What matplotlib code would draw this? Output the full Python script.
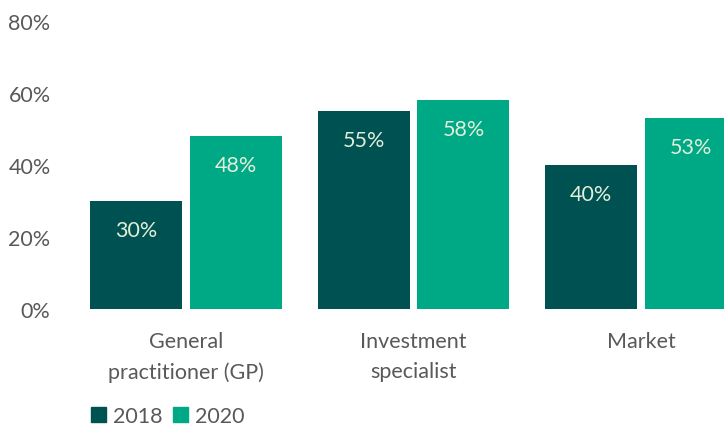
import matplotlib
matplotlib.use("Agg")
import matplotlib.pyplot as plt
from matplotlib.patches import Patch
import numpy as np

plt.rcParams['font.family'] = ['Lato', 'DejaVu Sans']

categories = ["General\npractitioner (GP)", "Investment\nspecialist", "Market"]
years = ["2018", "2020"]
values_2018 = [30, 55, 40]
values_2020 = [48, 58, 53]
yticks = [0, 20, 40, 60, 80]

DARK = "#005151"
GREEN = "#00a985"
LABEL_IN = "#e2eed8"
GREY = "#595959"
FS = 15.5

fig = plt.figure(figsize=(7.24, 4.27), dpi=100)
ax = fig.add_axes([70 / 724, 117 / 427, 654 / 724, 288 / 427])

x = np.arange(len(categories))
w = 0.404
off = 0.2195

b1 = ax.bar(x - off, values_2018, w, color=DARK)
b2 = ax.bar(x + off, values_2020, w, color=GREEN)

for bars, vals in ((b1, values_2018), (b2, values_2020)):
    for rect, v in zip(bars, vals):
        ax.annotate(f"{v}%", (rect.get_x() + rect.get_width() / 2, v),
                    xytext=(0, -21), textcoords="offset points",
                    ha="center", va="center", color=LABEL_IN, fontsize=FS)

ax.set_xlim(-0.51, 2.365)
ax.set_ylim(0, 80)
ax.set_yticks(yticks)
ax.set_yticklabels([f"{t}%" for t in yticks])
ax.set_xticks(x)
ax.set_xticklabels(categories, linespacing=1.6)
ax.tick_params(axis="y", length=0, pad=14, labelsize=FS, labelcolor=GREY)
ax.tick_params(axis="x", length=0, pad=16, labelsize=FS, labelcolor=GREY)
for s in ax.spines.values():
    s.set_visible(False)

handles = [Patch(color=DARK), Patch(color=GREEN)]
fig.legend(handles, years, loc="lower left", bbox_to_anchor=(72 / 724, -19 / 427),
           ncol=2, frameon=False, fontsize=FS, labelcolor=GREY,
           handlelength=0.7, handleheight=0.7, handletextpad=0.3,
           columnspacing=0.5)

fig.savefig("out.png", dpi=100)
